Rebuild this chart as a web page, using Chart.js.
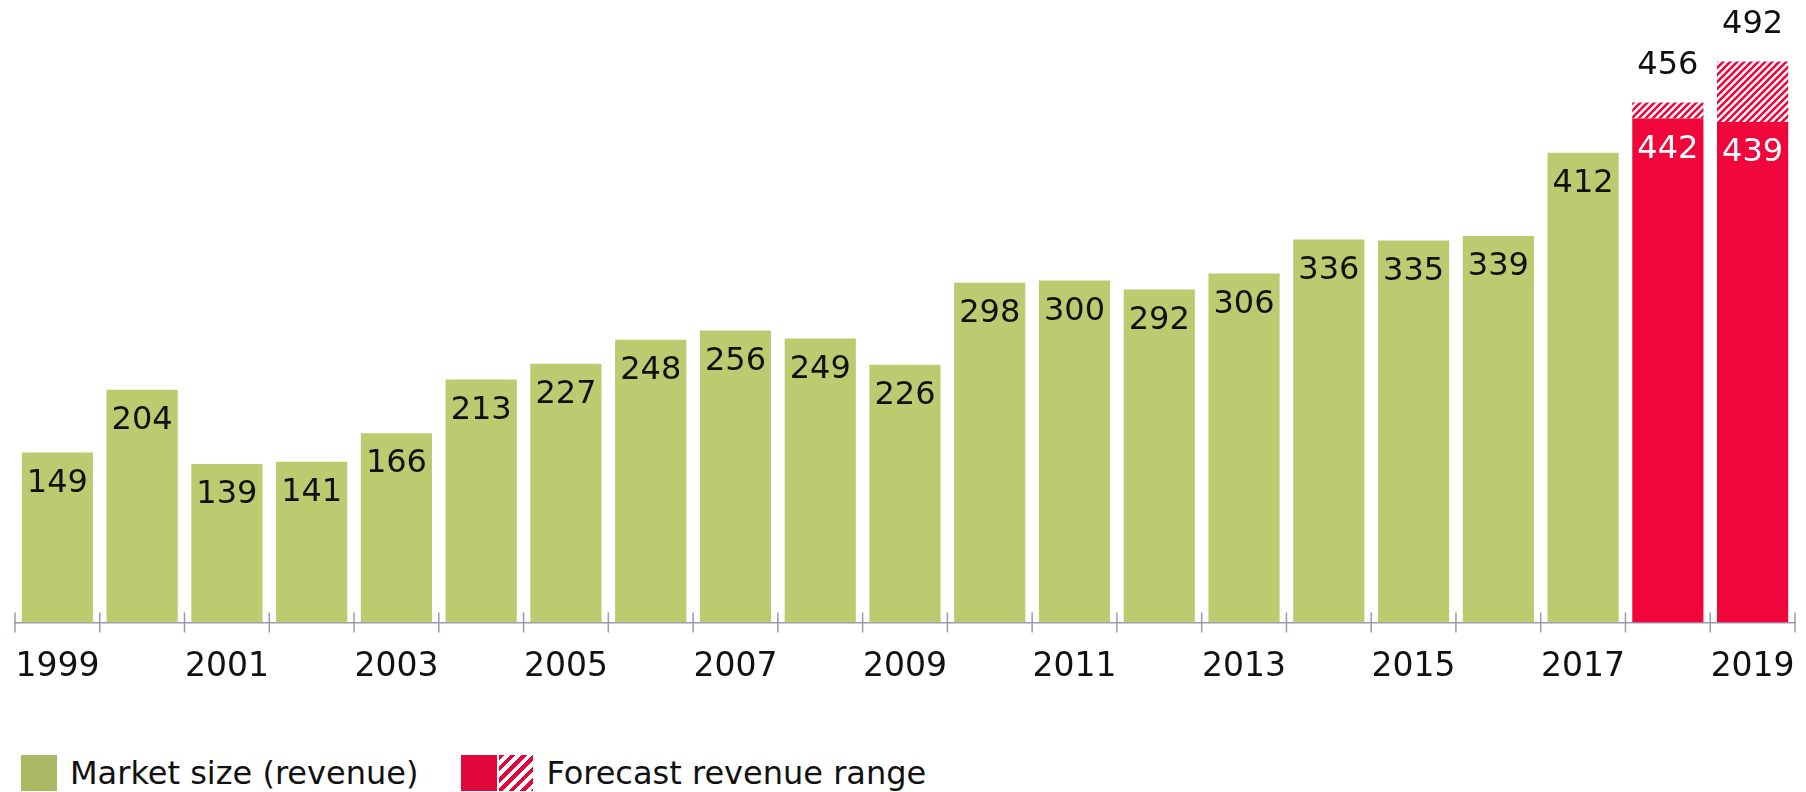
<!DOCTYPE html>
<html>
<head>
<meta charset="utf-8">
<script src="https://cdn.jsdelivr.net/npm/chart.js@4"></script>
<style>
  html, body { margin: 0; padding: 0; background: #fff; }
  body { width: 1806px; height: 792px; position: relative; overflow: hidden; font-family: "DejaVu Sans", Verdana, sans-serif; }
  #wrap { position: absolute; left: 0; top: 0; width: 1806px; height: 719px; }
  #legend { position: absolute; left: 21px; top: 755px; height: 36px; display: flex; align-items: center; font-size: 32px; color: #111; }
  .box { width: 36px; height: 36px; display: inline-block; }
  .green { background: #a9b964; }
  .red { background: #e2063a; }
  .hatch { width: 34px; margin-left: 2px; background: repeating-linear-gradient(135deg, #e2063a 0 4px, #fff 4px 8px); }
  .txt { margin-left: 13px; }
</style>
</head>
<body>
<div id="wrap"><canvas id="grafico"></canvas></div>
<div id="legend">
  <span class="box green"></span><span class="txt">Market size (revenue)</span>
  <span class="box red" style="margin-left:43px"></span><span class="box hatch"></span><span class="txt">Forecast revenue range</span>
</div>
<script>
const years = ['1999','2000','2001','2002','2003','2004','2005','2006','2007','2008','2009',
  '2010','2011','2012','2013','2014','2015','2016','2017','2018','2019'];
const marketSize = [149, 204, 139, 141, 166, 213, 227, 248, 256, 249, 226,
  298, 300, 292, 306, 336, 335, 339, 412, null, null];
const forecastLow = [null, null, null, null, null, null, null, null, null, null, null,
  null, null, null, null, null, null, null, null, 442, 439];
const forecastHigh = [null, null, null, null, null, null, null, null, null, null, null,
  null, null, null, null, null, null, null, null, 456, 492];

const green = '#bccb6f';
const red = '#f0063a';

// striped fill for the forecast range
function hatchPattern() {
  const s = 7;
  const c = document.createElement('canvas');
  c.width = s; c.height = s;
  const g = c.getContext('2d');
  g.fillStyle = '#fff';
  g.fillRect(0, 0, s, s);
  g.strokeStyle = red;
  g.lineWidth = 2.6;
  g.beginPath();
  g.moveTo(-1, s + 1); g.lineTo(s + 1, -1);
  g.moveTo(-1, 1); g.lineTo(1, -1);
  g.moveTo(s - 1, s + 1); g.lineTo(s + 1, s - 1);
  g.stroke();
  return g.createPattern(c, 'repeat');
}

const rangeSize = forecastHigh.map((v, i) => v == null ? null : v - forecastLow[i]);

const valueLabels = {
  id: 'valueLabels',
  afterDatasetsDraw(chart) {
    const ctx = chart.ctx;
    ctx.save();
    ctx.font = '32px "DejaVu Sans"';
    ctx.textAlign = 'center';
    ctx.textBaseline = 'middle';
    chart.getDatasetMeta(0).data.forEach((bar, i) => {
      if (marketSize[i] == null) return;
      ctx.fillStyle = '#111';
      ctx.fillText(marketSize[i], bar.x, bar.y + 31);
    });
    chart.getDatasetMeta(1).data.forEach((bar, i) => {
      if (forecastLow[i] == null) return;
      ctx.fillStyle = '#fff';
      ctx.fillText(forecastLow[i], bar.x, bar.y + 31);
    });
    chart.getDatasetMeta(2).data.forEach((bar, i) => {
      if (forecastHigh[i] == null) return;
      ctx.fillStyle = '#111';
      ctx.fillText(forecastHigh[i], bar.x, bar.y - 37);
    });
    ctx.restore();
  }
};

// tick marks crossing the axis at category boundaries
const axisTicks = {
  id: 'axisTicks',
  afterDraw(chart) {
    const x = chart.scales.x;
    const y0 = chart.scales.y.getPixelForValue(0);
    const step = x.getPixelForValue(1) - x.getPixelForValue(0);
    const ctx = chart.ctx;
    ctx.save();
    ctx.strokeStyle = '#9a9aad';
    ctx.lineWidth = 1.5;
    ctx.beginPath();
    for (let i = 0; i <= years.length; i++) {
      const px = x.getPixelForValue(0) - step / 2 + i * step;
      ctx.moveTo(px, y0 - 10);
      ctx.lineTo(px, y0 + 10);
    }
    ctx.stroke();
    ctx.restore();
  }
};

new Chart(document.getElementById('grafico'), {
  type: 'bar',
  data: {
    labels: years,
    datasets: [
      { label: 'Market size (revenue)', data: marketSize, backgroundColor: green },
      { label: 'Forecast revenue range', data: forecastLow, backgroundColor: red },
      { label: 'Forecast range', data: rangeSize, backgroundColor: hatchPattern() }
    ]
  },
  options: {
    responsive: true,
    maintainAspectRatio: false,
    animation: false,
    datasets: { bar: { barPercentage: 0.84, categoryPercentage: 1 } },
    layout: { padding: { left: 15, right: 11, top: 0, bottom: 7 } },
    plugins: {
      legend: { display: false },
      tooltip: { enabled: false }
    },
    scales: {
      x: {
        stacked: true,
        grid: { display: false, drawTicks: false },
        border: { display: true, color: '#9a9aad', width: 1.5 },
        ticks: {
          autoSkip: false,
          maxRotation: 0,
          padding: 25,
          color: '#111',
          font: { family: 'DejaVu Sans', size: 33 },
          callback: (v, i) => i % 2 === 0 ? years[i] : ''
        },
        afterFit: (s) => { s.paddingLeft = 0; s.paddingRight = 0; }
      },
      y: {
        stacked: true,
        display: false,
        min: 0,
        max: 546
      }
    }
  },
  plugins: [valueLabels, axisTicks]
});
</script>
</body>
</html>
